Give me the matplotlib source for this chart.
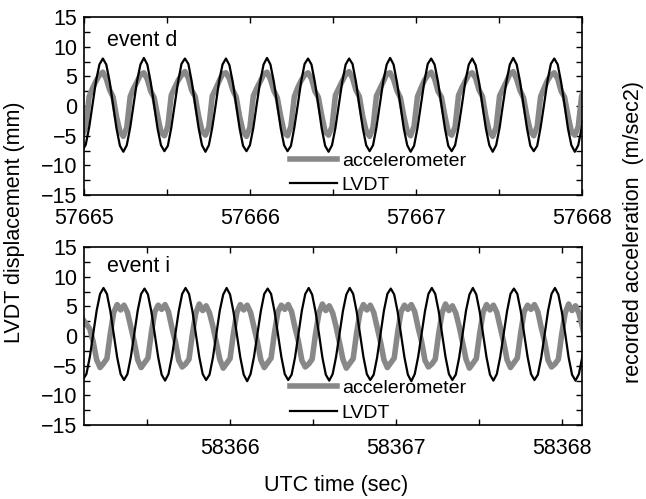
import numpy as np
import matplotlib
matplotlib.use("Agg")
import matplotlib.pyplot as plt
from matplotlib.ticker import MultipleLocator, FormatStrFormatter

plt.rcParams['font.family'] = ['Liberation Sans', 'DejaVu Sans']

# sample clock of the recordings (s)
dt = 0.0206
t0_d = 57664.990
t0_i = 58365.114

# event d (one row ~ one 4 Hz cycle, starting at the LVDT peak)
lvdt_d = [
    -7.5, -6.5, -3.6, 0.3, 4.2, 7.0,
    8.0, 7.0, 4.1, 0.2, -3.8, -6.7, -7.7, -6.6, -3.6, 0.3, 4.2, 7.0,
    8.1, 7.0, 4.0, 0.1, -3.8, -6.6, -7.6, -6.7, -3.7, 0.2, 4.1, 7.1,
    8.0, 7.1, 4.1, 0.2, -3.7, -6.6, -7.7, -6.6, -3.6, 0.2, 4.2, 7.0,
    8.0, 6.9, 4.0, 0.1, -3.8, -6.7, -7.6, -6.6, -3.7, 0.3, 4.1, 7.0,
    8.1, 7.0, 4.1, 0.2, -3.7, -6.6, -7.6, -6.7, -3.6, 0.2, 4.2, 7.1,
    8.0, 7.0, 4.0, 0.2, -3.8, -6.7, -7.7, -6.6, -3.7, 0.2, 4.1, 7.0,
    8.0, 7.1, 4.1, 0.1, -3.7, -6.6, -7.6, -6.6, -3.6, 0.3, 4.2, 7.0,
    8.1, 7.0, 4.0, 0.2, -3.8, -6.6, -7.7, -6.7, -3.7, 0.2, 4.1, 7.1,
    8.0, 7.0, 4.1, 0.2, -3.7, -6.7, -7.6, -6.6, -3.6, 0.2, 4.2, 7.0,
    8.0, 6.9, 4.0, 0.1, -3.8, -6.6, -7.7, -6.6, -3.7, 0.3, 4.1, 7.0,
    8.1, 7.0, 4.1, 0.2, -3.7, -6.7, -7.6, -6.7, -3.6, 0.2, 4.2, 7.1,
    8.0, 7.0, 4.0, 0.2, -3.8, -6.6, -7.7, -6.6, -3.7, 0.2,
]
acc_d = [
    -5.0, -3.5, 1.6, 3.0, 4.2, 5.2,
    5.7, 4.6, 2.7, 1.5, -1.8, -4.3, -5.1, -3.6, 1.6, 3.0, 4.1, 5.3,
    5.6, 4.5, 2.5, 1.4, -1.6, -4.4, -5.0, -3.4, 1.8, 3.1, 4.3, 5.2,
    5.8, 4.7, 2.6, 1.6, -1.7, -4.2, -4.9, -3.5, 1.7, 2.9, 4.2, 5.4,
    5.6, 4.6, 2.7, 1.5, -1.8, -4.3, -5.1, -3.6, 1.7, 3.0, 4.1, 5.3,
    5.7, 4.5, 2.6, 1.4, -1.7, -4.4, -5.0, -3.4, 1.6, 3.1, 4.3, 5.2,
    5.6, 4.6, 2.5, 1.5, -1.6, -4.3, -4.9, -3.5, 1.8, 3.0, 4.2, 5.3,
    5.8, 4.7, 2.7, 1.6, -1.8, -4.2, -5.1, -3.6, 1.7, 2.9, 4.1, 5.4,
    5.6, 4.5, 2.6, 1.4, -1.7, -4.3, -5.0, -3.4, 1.6, 3.0, 4.3, 5.2,
    5.7, 4.6, 2.5, 1.5, -1.6, -4.4, -4.9, -3.5, 1.8, 3.1, 4.2, 5.3,
    5.6, 4.7, 2.7, 1.6, -1.8, -4.3, -5.1, -3.6, 1.7, 2.9, 4.1, 5.4,
    5.8, 4.5, 2.6, 1.4, -1.7, -4.2, -5.0, -3.4, 1.6, 3.0, 4.3, 5.2,
    5.6, 4.6, 2.5, 1.5, -1.6, -4.3, -4.9, -3.5, 1.7, 3.0,
]

# event i
lvdt_i = [
    -7.3, -6.4, -3.5, 0.4, 4.3, 7.1,
    8.1, 7.1, 4.2, 0.3, -3.6, -6.4, -7.4, -6.4, -3.5, 0.4, 4.3, 7.1,
    8.0, 7.0, 4.1, 0.3, -3.6, -6.5, -7.5, -6.4, -3.5, 0.3, 4.2, 7.1,
    8.1, 7.1, 4.2, 0.4, -3.5, -6.4, -7.4, -6.5, -3.6, 0.4, 4.3, 7.0,
    8.1, 7.0, 4.1, 0.3, -3.6, -6.5, -7.6, -6.4, -3.5, 0.3, 4.2, 7.1,
    8.0, 7.1, 4.2, 0.3, -3.5, -6.4, -7.4, -6.5, -3.6, 0.4, 4.3, 7.1,
    8.1, 7.0, 4.1, 0.4, -3.6, -6.5, -7.5, -6.4, -3.5, 0.3, 4.2, 7.0,
    8.1, 7.1, 4.2, 0.3, -3.5, -6.4, -7.4, -6.5, -3.6, 0.4, 4.3, 7.1,
    8.0, 7.0, 4.1, 0.3, -3.6, -6.5, -7.6, -6.4, -3.5, 0.3, 4.2, 7.1,
    8.1, 7.1, 4.2, 0.4, -3.5, -6.4, -7.4, -6.5, -3.6, 0.4, 4.3, 7.0,
    8.1, 7.0, 4.1, 0.3, -3.6, -6.5, -7.5, -6.4, -3.5, 0.3, 4.2, 7.1,
    8.0, 7.1, 4.2, 0.3, -3.5, -6.4, -7.4, -6.5, -3.6, 0.4, 4.3, 7.1,
    8.1, 7.0, 4.1, 0.4, -3.6, -6.5, -7.5, -6.4, -3.5, 0.3,
]
acc_i = [
    2.8, 2.0, 1.2, -1.0, -4.0, -5.3,
    -4.6, -3.8, 0.5, 4.0, 5.3, 4.4, 5.2, 4.0, 1.5, -1.0, -4.0, -5.3,
    -4.5, -3.7, 0.6, 4.1, 5.2, 4.5, 5.3, 4.1, 1.4, -0.9, -4.1, -5.2,
    -4.7, -3.9, 0.4, 3.9, 5.4, 4.3, 5.1, 3.9, 1.6, -1.1, -3.9, -5.4,
    -4.6, -3.8, 0.5, 4.0, 5.3, 4.4, 5.2, 4.0, 1.5, -1.0, -4.0, -5.3,
    -4.5, -3.7, 0.6, 4.1, 5.2, 4.5, 5.3, 4.1, 1.4, -0.9, -4.1, -5.2,
    -4.7, -3.9, 0.4, 3.9, 5.4, 4.3, 5.1, 3.9, 1.6, -1.1, -3.9, -5.4,
    -4.6, -3.8, 0.5, 4.0, 5.3, 4.4, 5.2, 4.0, 1.5, -1.0, -4.0, -5.3,
    -4.5, -3.7, 0.6, 4.1, 5.2, 4.5, 5.3, 4.1, 1.4, -0.9, -4.1, -5.2,
    -4.7, -3.9, 0.4, 3.9, 5.4, 4.3, 5.1, 3.9, 1.6, -1.1, -3.9, -5.4,
    -4.6, -3.8, 0.5, 4.0, 5.3, 4.4, 5.2, 4.0, 1.5, -1.0, -4.0, -5.3,
    -4.5, -3.7, 0.6, 4.1, 5.2, 4.5, 5.3, 4.1, 1.4, -0.9, -4.1, -5.2,
    -4.7, -3.9, 0.4, 3.9, 5.4, 4.3, 5.1, 3.9, 1.6, -1.1,
]

xlim_d = (57665.0, 57668.0)
xlim_i = (58365.12, 58368.12)
event_labels = ["event d", "event i"]

gray = "#888888"
fs = 15.5      # tick labels, axis labels
fs_leg = 14

fig = plt.figure(figsize=(6.46, 4.99), dpi=100)
ax_d = fig.add_axes([0.130, 0.609, 0.771, 0.357])
ax_i = fig.add_axes([0.130, 0.148, 0.771, 0.357])

panels = [(ax_d, t0_d, lvdt_d, acc_d, xlim_d, 0.87, 0.005),
          (ax_i, t0_i, lvdt_i, acc_i, xlim_i, 0.89, 0.02)]
for (ax, t0, lv, ac, xl, ty, ly), name in zip(panels, event_labels):
    t = t0 + dt * np.arange(len(lv))
    ax.plot(t, ac, color=gray, lw=4.0, label="accelerometer")
    ax.plot(t, lv, color="black", lw=1.6, label="LVDT")
    ax.set_xlim(*xl)
    ax.set_ylim(-15, 15)
    ax.xaxis.set_major_locator(MultipleLocator(1))
    ax.xaxis.set_minor_locator(MultipleLocator(0.5))
    ax.xaxis.set_major_formatter(FormatStrFormatter('%d'))
    ax.yaxis.set_major_locator(MultipleLocator(5))
    ax.yaxis.set_minor_locator(MultipleLocator(2.5))
    ax.tick_params(which='both', direction='in', top=True, right=True,
                   length=4, width=1, labelsize=fs)
    ax.tick_params(axis='x', pad=9)
    ax.tick_params(axis='y', pad=5)
    for sp in ax.spines.values():
        sp.set_linewidth(1.2)
    ax.text(0.046, ty, name, transform=ax.transAxes, fontsize=fs,
            va='center', ha='left')
    ax.legend(loc='lower left', bbox_to_anchor=(0.414, ly), frameon=False,
              fontsize=fs_leg, handlelength=2.4, handletextpad=0.25,
              labelspacing=0.35, borderpad=0, borderaxespad=0)

fig.text(0.023, 0.554, "LVDT displacement (mm)", rotation=90, fontsize=fs,
         ha='center', va='center')
fig.text(0.981, 0.535, "recorded acceleration  (m/sec2)", rotation=90, fontsize=fs,
         ha='center', va='center')
fig.text(0.52, 0.028, "UTC time (sec)", fontsize=fs, ha='center', va='center')

fig.savefig("out.png", dpi=100)
